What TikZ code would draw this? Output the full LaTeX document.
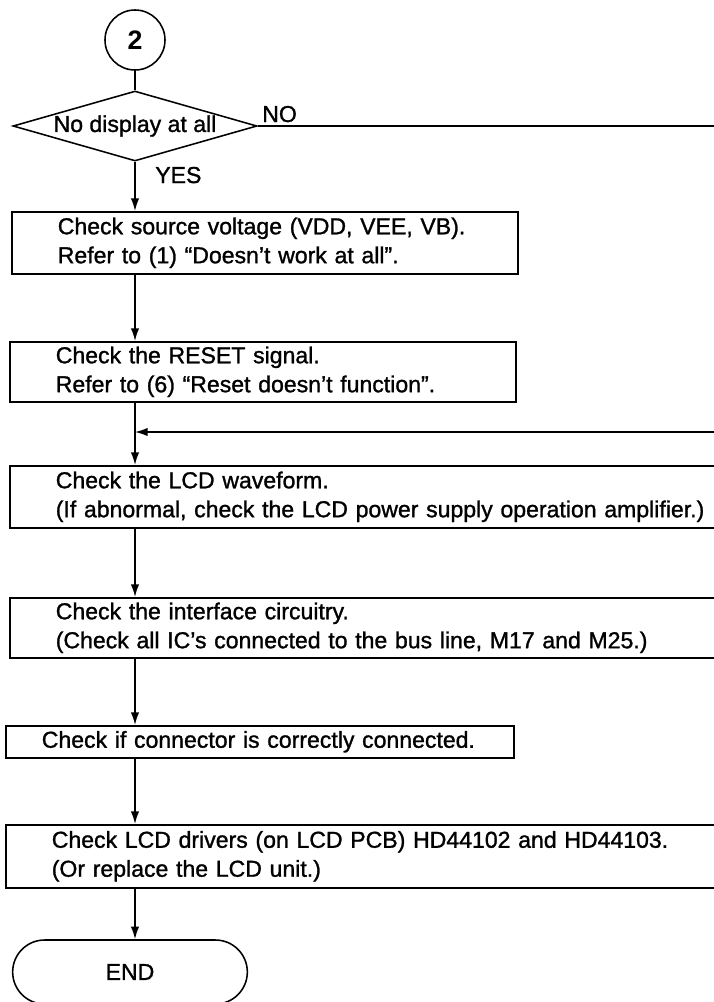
\documentclass[tikz,border=0pt]{standalone}
\usepackage{fontspec}
\setmainfont{Liberation Sans}
\newfontfamily\flowfam{Liberation Sans}[Ligatures=TeX,FakeBold=1.2]
\usepackage{tikz}
\usetikzlibrary{arrows.meta, positioning, calc, shapes.geometric, shapes.misc}
\newcommand{\flowfont}{\flowfam\fontsize{16.4}{20.6}\selectfont}
\tikzset{
  >=latex,  % frecce di default
  % Blocchi del diagramma
  box/.style={draw,line width=1.1pt,rectangle,anchor=north west,align=left,inner xsep=1.15cm,inner ysep=0pt,text width=10.35cm,minimum height=1.55cm,font=\flowfont},
  box wide/.style={box,text width=16.475cm},
  box short/.style={box,inner xsep=0.9cm,text width=10.9cm,minimum height=0.8cm},
  decision/.style={draw,line width=1.1pt,diamond,aspect=3.5,inner sep=0pt,minimum width=6.1cm,minimum height=1.75cm,font=\flowfont},
  terminal/.style={draw,line width=1.1pt,rounded rectangle,minimum width=6.1cm,minimum height=1.6cm,font=\flowfont},
  connector/.style={draw,line width=1.1pt,circle,minimum size=1.5cm,inner sep=0pt,font=\fontsize{19}{22}\selectfont\bfseries},
  tag/.style={inner sep=0pt,font=\flowfont},
  % Connessioni
  connect/.style={line width=1.1pt},
  connect arrow/.style={-{Latex[length=9pt,width=6pt]},line width=1.1pt}
}

\begin{document}
\begin{tikzpicture}[x=0.025cm,y=-0.025cm]
  \useasboundingbox (0,0) rectangle (714,1002);
  \clip (0,0) rectangle (714,1002);
  \node[connector] (start) at (135,40) {2};
  \node[decision] (dec) at (135,126) {No display at all};
  \node[tag,anchor=base west] (no) at (262,122) {NO};
  \node[tag,anchor=base west] (yes) at (155,183) {YES};
  \node[box] (src) at (11,211) {Check source voltage (VDD, VEE, VB).\\Refer to (1) ``Doesn't work at all''.};
  \node[box,minimum height=1.5cm] (reset) at (9,341) {Check the RESET signal.\\Refer to (6) ``Reset doesn't function''.};
  \coordinate (noend) at (730,126);
  \coordinate (loopin) at (730,432);
  \coordinate (join) at (135,432);
  \node[box wide] (wave) at (9,465) {Check the LCD waveform.\\(If abnormal, check the LCD power supply operation amplifier.)};
  \node[box wide,minimum height=1.5cm] (iface) at (9,597) {Check the interface circuitry.\\(Check all IC's connected to the bus line, M17 and M25.)};
  \node[box short] (conn) at (5,725) {Check if connector is correctly connected.};
  \node[box wide,minimum height=1.575cm] (drv) at (5,824) {Check LCD drivers (on LCD PCB) HD44102 and HD44103.\\(Or replace the LCD unit.)};
  \node[terminal] (fine) at (130,972) {END};
  \draw[connect] (start) -- (dec);
  \draw[connect] (dec.east) -- (noend);
  \draw[connect arrow] (dec.south) -- (dec |- src.north);
  \draw[connect arrow] (dec |- src.south) -- (dec |- reset.north);
  \draw[connect] (dec |- reset.south) -- (join);
  \draw[connect arrow] (loopin) -- (join);
  \draw[connect arrow] (join) -- (dec |- wave.north);
  \draw[connect arrow] (dec |- wave.south) -- (dec |- iface.north);
  \draw[connect arrow] (dec |- iface.south) -- (dec |- conn.north);
  \draw[connect arrow] (dec |- conn.south) -- (dec |- drv.north);
  \draw[connect arrow] (dec |- drv.south) -- (dec |- fine.north);
\end{tikzpicture}
\end{document}
